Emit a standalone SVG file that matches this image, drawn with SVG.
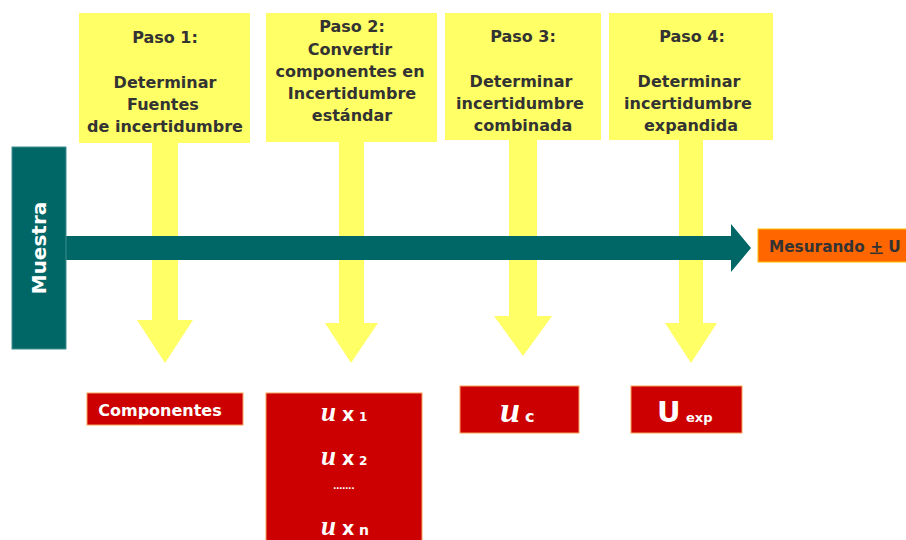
<svg xmlns="http://www.w3.org/2000/svg" width="906" height="540" viewBox="0 0 906 540">
<style>
.step{fill:#FFFF66}
.st{font-family:"DejaVu Sans",sans-serif;font-weight:bold;font-size:16px;fill:#333333;text-anchor:middle}
.yarrow{fill:#FFFF66}
.teal{fill:#006666}
.red{fill:#CC0000;stroke:#F7A35C;stroke-width:1}
.wt{font-family:"DejaVu Sans",sans-serif;font-weight:bold;fill:#FFFFFF}
.u{font-family:"Liberation Serif",serif;font-weight:bold;font-style:italic;fill:#FFFFFF}
</style>
<rect width="906" height="540" fill="#FFFFFF"/>
<g id="connectors">
<polygon class="yarrow" points="152,143 178,143 178,320 193,320 165,363 137,320 152,320"/>
<polygon class="yarrow" points="339,142 364,142 364,323 378,323 351,363 325,323 339,323"/>
<polygon class="yarrow" points="509,140 537,140 537,316 552,316 523,356 494,316 509,316"/>
<polygon class="yarrow" points="679,140 703,140 703,323 717,323 691,363 665,323 679,323"/>
<polygon class="teal" points="66,236 731,236 731,224 751,248 731,272 731,260 66,260"/>
</g>
<g id="step1">
<rect class="step" x="79" y="13" width="171" height="130"/>
<text class="st" x="165" y="43">Paso 1:</text>
<text class="st" x="165" y="88">Determinar</text>
<text class="st" x="163" y="110">Fuentes</text>
<text class="st" x="165" y="131.5">de incertidumbre</text>
</g>
<g id="step2">
<rect class="step" x="266" y="13" width="171" height="129"/>
<text class="st" x="352" y="32">Paso 2:</text>
<text class="st" x="350" y="55">Convertir</text>
<text class="st" x="350" y="77">componentes en</text>
<text class="st" x="352" y="99">Incertidumbre</text>
<text class="st" x="352" y="121">estándar</text>
</g>
<g id="step3">
<rect class="step" x="445" y="13" width="156" height="127"/>
<text class="st" x="523" y="42">Paso 3:</text>
<text class="st" x="521" y="87">Determinar</text>
<text class="st" x="520" y="109">incertidumbre</text>
<text class="st" x="523" y="131">combinada</text>
</g>
<g id="step4">
<rect class="step" x="609" y="13" width="164" height="127"/>
<text class="st" x="692" y="42">Paso 4:</text>
<text class="st" x="689" y="87">Determinar</text>
<text class="st" x="688" y="109">incertidumbre</text>
<text class="st" x="691" y="131">expandida</text>
</g>
<g id="muestra">
<rect class="teal" x="12" y="147" width="54" height="202" stroke="#3f8f8f" stroke-width="1"/>
<text class="wt" font-size="20" text-anchor="middle" transform="translate(46,248) rotate(-90)">Muestra</text>
</g>
<g id="mesurando">
<rect x="758" y="229" width="150" height="33" fill="#FF6600" stroke="#FFC000" stroke-width="1"/>
<text x="769" y="251.5" font-family="DejaVu Sans,sans-serif" font-weight="bold" font-size="15.3" fill="#333333">Mesurando <tspan text-decoration="underline">+</tspan> U</text>
</g>
<g id="componentes">
<rect class="red" x="87" y="393" width="156" height="32"/>
<text class="wt" font-size="16" x="160" y="416" text-anchor="middle">Componentes</text>
</g>
<g id="ux">
<rect class="red" x="266" y="393" width="156" height="150"/>
<text x="321" y="421"><tspan class="u" font-size="27">u</tspan><tspan class="wt" font-size="19" x="342">x</tspan><tspan class="wt" font-size="12" font-weight="normal" x="359">1</tspan></text>
<text x="321" y="465"><tspan class="u" font-size="27">u</tspan><tspan class="wt" font-size="19" x="342">x</tspan><tspan class="wt" font-size="12" font-weight="normal" x="359">2</tspan></text>
<text class="wt" font-size="9" font-weight="normal" x="344" y="489" text-anchor="middle">…….</text>
<text x="321" y="535"><tspan class="u" font-size="27">u</tspan><tspan class="wt" font-size="19" x="342">x</tspan><tspan class="wt" font-size="14" font-weight="normal" x="359">n</tspan></text>
</g>
<g id="uc">
<rect class="red" x="460" y="386" width="119" height="47"/>
<text x="500" y="422"><tspan class="u" font-size="36">u</tspan><tspan class="wt" font-size="16" x="525">c</tspan></text>
</g>
<g id="uexp">
<rect class="red" x="631" y="386" width="111" height="47"/>
<text x="657" y="422"><tspan class="wt" font-family="Liberation Sans,sans-serif" font-size="29">U</tspan><tspan class="wt" font-size="13" x="686">exp</tspan></text>
</g>
</svg>
